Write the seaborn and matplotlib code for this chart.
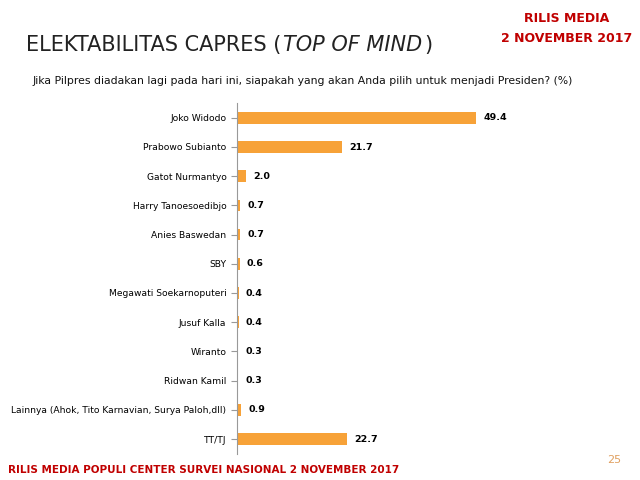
import matplotlib
matplotlib.use("Agg")
import matplotlib.pyplot as plt
import seaborn as sns
import pandas as pd

categories = ["Joko Widodo", "Prabowo Subianto", "Gatot Nurmantyo", "Harry Tanoesoedibjo",
              "Anies Baswedan", "SBY", "Megawati Soekarnoputeri", "Jusuf Kalla", "Wiranto",
              "Ridwan Kamil", "Lainnya (Ahok, Tito Karnavian, Surya Paloh,dll)", "TT/TJ"]
values = [49.4, 21.7, 2.0, 0.7, 0.7, 0.6, 0.4, 0.4, 0.3, 0.3, 0.9, 22.7]
labels = ["49.4", "21.7", "2.0", "0.7", "0.7", "0.6", "0.4", "0.4", "0.3", "0.3", "0.9", "22.7"]

df = pd.DataFrame({"cat": categories, "val": values})
fig = plt.figure(figsize=(6.4, 4.8), dpi=100)
fig.patch.set_facecolor("white")
ax = fig.add_axes([0.37, 0.055, 0.58, 0.73])
sns.barplot(data=df, y="cat", x="val", color="#F7A238", width=0.4, ax=ax, saturation=1)
ax.set_xlim(0, 76.7)
ax.set_xlabel(""); ax.set_ylabel("")
ax.set_xticks([])
for s in ["top", "right", "bottom"]:
    ax.spines[s].set_visible(False)
ax.spines["left"].set_color("#999999")
ax.tick_params(axis="y", length=4, color="#999999", labelsize=6.6)
for i, (v, l) in enumerate(zip(values, labels)):
    ax.text(v + 1.5, i, l, va="center", ha="left", fontsize=6.8, fontweight="bold")
ax.set_facecolor("none")

fig.canvas.draw()
r = fig.canvas.get_renderer()
inv = fig.transFigure.inverted()
x = 0.04
for txt, st in [("ELEKTABILITAS CAPRES (", "normal"), ("TOP OF MIND", "italic"), (")", "normal")]:
    t = fig.text(x, 0.885, txt, fontsize=15, color="#222222", style=st, va="bottom")
    bb = t.get_window_extent(r)
    x = inv.transform((bb.x1, bb.y1))[0] + 0.003
fig.text(0.05, 0.825, "Jika Pilpres diadakan lagi pada hari ini, siapakah yang akan Anda pilih untuk menjadi Presiden? (%)",
         fontsize=7.8, color="#111111")
fig.text(0.885, 0.955, "RILIS MEDIA", fontsize=9, color="#C00000", fontweight="bold", ha="center")
fig.text(0.885, 0.912, "2 NOVEMBER 2017", fontsize=9, color="#C00000", fontweight="bold", ha="center")
fig.text(0.012, 0.015, "RILIS MEDIA POPULI CENTER SURVEI NASIONAL 2 NOVEMBER 2017", fontsize=7.5,
         color="#C00000", fontweight="bold")
fig.text(0.97, 0.035, "25", fontsize=8, color="#E0A060", ha="right")
fig.savefig("out.png", dpi=100)
